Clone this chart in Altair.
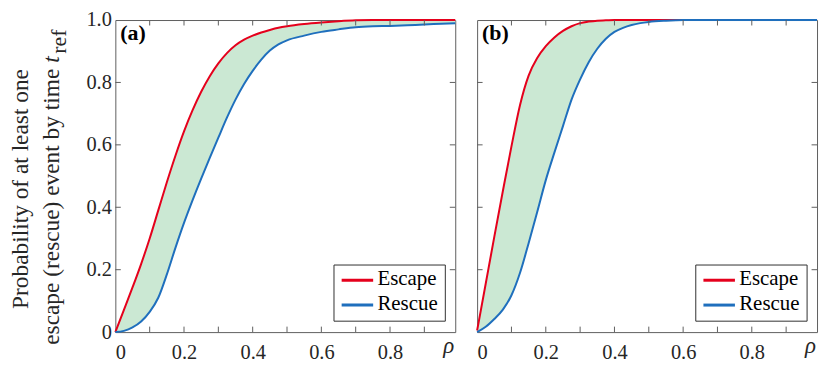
import altair as alt
import pandas as pd

# ---------------- data ----------------
RHO = [0, 0.025, 0.05, 0.075, 0.1, 0.125, 0.15, 0.175, 0.2, 0.225, 0.25, 0.275,
       0.3, 0.325, 0.35, 0.375, 0.4, 0.425, 0.45, 0.475, 0.5, 0.55, 0.6, 0.65,
       0.7, 0.75, 0.8, 0.85, 0.9, 0.95, 0.99]

ESCAPE_A = [0, 0.071, 0.143, 0.218, 0.300, 0.390, 0.480, 0.565, 0.643, 0.711, 0.770, 0.820,
            0.861, 0.894, 0.919, 0.937, 0.950, 0.960, 0.968, 0.975, 0.980, 0.987, 0.992, 0.996,
            0.999, 1.0, 1.0, 1.0, 1.0, 1.0, 1.0]
RESCUE_A = [0, 0.004, 0.015, 0.034, 0.065, 0.110, 0.185, 0.270, 0.350, 0.423, 0.492, 0.558,
            0.623, 0.687, 0.745, 0.795, 0.837, 0.873, 0.902, 0.922, 0.935, 0.950, 0.962, 0.970,
            0.977, 0.980, 0.981, 0.983, 0.986, 0.988, 0.990]

ESCAPE_B = [0.005, 0.155, 0.305, 0.452, 0.595, 0.728, 0.822, 0.878, 0.916, 0.944, 0.965, 0.980,
            0.990, 0.995, 0.998, 0.999, 1.0, 1.0, 1.0, 1.0, 1.0, 1.0, 1.0, 1.0,
            1.0, 1.0, 1.0, 1.0, 1.0, 1.0, 1.0]
RESCUE_B = [0, 0.017, 0.042, 0.072, 0.118, 0.190, 0.285, 0.385, 0.487, 0.575, 0.660, 0.745,
            0.810, 0.865, 0.908, 0.940, 0.962, 0.975, 0.984, 0.990, 0.994, 0.998, 1.0, 1.0,
            1.0, 1.0, 1.0, 1.0, 1.0, 1.0, 1.0]

SERIES = ["Escape", "Rescue"]
X_LABEL_VALUES = [0, 0.2, 0.4, 0.6, 0.8]
Y_LABEL_VALUES = [0, 0.2, 0.4, 0.6, 0.8, 1.0]
X_TICKS = [0.1, 0.2, 0.3, 0.4, 0.5, 0.6, 0.7, 0.8, 0.9]
Y_TICKS = [0.2, 0.4, 0.6, 0.8]
YTITLE_1 = "Probability of at least one"
YTITLE_2 = "escape (rescue) event by time"
PANEL_TAGS = ["(a)", "(b)"]
XLABEL = "ρ"

# ---------------- style ----------------
FONT = "Liberation Serif"
RED = "#e5001c"
BLUE = "#1f6fbd"
FILL = "#cbe8d3"
FRAME = "#5f5f5f"
TEXT = "#262626"
W, H = 342, 314
XMAX = 0.99
TK = 5.5

xs = alt.Scale(domain=[0, XMAX], nice=False, zero=False)
ys = alt.Scale(domain=[0, 1], nice=False, zero=False)
LABEL_EXPR = "datum.value == 0 ? '0' : format(datum.value, '.1f')"


def txt(s, **kw):
    return alt.Chart(pd.DataFrame({"t": [s]})).mark_text(font=FONT, **kw)


def panel(esc, res, tag, first):
    wide = pd.DataFrame({"rho": RHO, "Escape": esc, "Rescue": res})
    long = wide.melt("rho", var_name="series", value_name="p")

    xaxis = alt.Axis(values=X_LABEL_VALUES, labelExpr=LABEL_EXPR, ticks=False, tickSize=0,
                     domain=False, grid=False, labelPadding=11, title=None,
                     labelFont=FONT, labelFontSize=20.5, labelColor=TEXT)
    if first:
        yaxis = alt.Axis(values=Y_LABEL_VALUES, labelExpr=LABEL_EXPR, ticks=False, tickSize=0,
                         domain=False, grid=False, labelPadding=4, title=None,
                         labelFont=FONT, labelFontSize=20.5, labelColor=TEXT)
    else:
        yaxis = None

    area = alt.Chart(wide).mark_area(color=FILL, opacity=1, interpolate="monotone").encode(
        x=alt.X("rho:Q", scale=xs, axis=xaxis),
        y=alt.Y("Escape:Q", scale=ys, axis=yaxis),
        y2="Rescue:Q",
    )
    lines = alt.Chart(long).mark_line(strokeWidth=2, interpolate="monotone").encode(
        x="rho:Q",
        y="p:Q",
        color=alt.Color("series:N", scale=alt.Scale(domain=SERIES, range=[RED, BLUE]), legend=None),
        order=alt.Order("series:N"),
    )

    xt = pd.DataFrame({"v": X_TICKS})
    yt = pd.DataFrame({"v": Y_TICKS})
    tick_bottom = alt.Chart(xt).mark_rule(color=FRAME, strokeWidth=1).encode(
        x="v:Q", y=alt.value(H), y2=alt.value(H - TK))
    tick_top = alt.Chart(xt).mark_rule(color=FRAME, strokeWidth=1).encode(
        x="v:Q", y=alt.value(0), y2=alt.value(TK))
    tick_left = alt.Chart(yt).mark_rule(color=FRAME, strokeWidth=1).encode(
        y="v:Q", x=alt.value(0), x2=alt.value(TK))
    tick_right = alt.Chart(yt).mark_rule(color=FRAME, strokeWidth=1).encode(
        y="v:Q", x=alt.value(W), x2=alt.value(W - TK))

    tag_text = txt(tag, fontSize=22, fontWeight="bold", align="left", baseline="alphabetic",
                   color="black").encode(x=alt.value(5), y=alt.value(20), text="t:N")

    rho_text = txt(XLABEL, fontSize=23, fontStyle="italic", align="right", baseline="alphabetic",
                   color=TEXT).encode(x=alt.value(W - 1), y=alt.value(H + 21), text="t:N")

    # legend box drawn inside the axes (MATLAB style)
    bx2, by2 = W - 10, H - 11
    bx1, by1 = bx2 - 112, by2 - 56.5
    box = alt.Chart(pd.DataFrame({"a": [0]})).mark_rect(
        fill="white", stroke="#303030", strokeWidth=1
    ).encode(x=alt.value(bx1), x2=alt.value(bx2), y=alt.value(by1), y2=alt.value(by2))
    leg_layers = [box]
    for i, (name, col) in enumerate(zip(SERIES, [RED, BLUE])):
        cy = by1 + 15.3 + 25 * i
        leg_layers.append(alt.Chart(pd.DataFrame({"t": [name]})).mark_rule(
            color=col, strokeWidth=3).encode(
            x=alt.value(bx1 + 7.7), x2=alt.value(bx1 + 39.4), y=alt.value(cy)))
        leg_layers.append(txt(name, fontSize=21, align="left", baseline="middle", color="black")
                          .encode(x=alt.value(bx1 + 43.7), y=alt.value(cy - 1), text="t:N"))

    layers = [area, lines, tick_bottom, tick_top, tick_left, tick_right, tag_text, rho_text] + leg_layers

    if first:
        t1 = txt(YTITLE_1, fontSize=23.5, angle=270, align="center", baseline="alphabetic",
                 color=TEXT).encode(x=alt.value(-88), y=alt.value(170), text="t:N")
        t2 = txt(YTITLE_2, fontSize=23.5, angle=270, align="right", baseline="alphabetic",
                 color=TEXT).encode(x=alt.value(-57), y=alt.value(49), text="t:N")
        t3 = txt("t", fontSize=23.5, fontStyle="italic", angle=270, align="left",
                 baseline="alphabetic", color=TEXT).encode(x=alt.value(-57), y=alt.value(43), text="t:N")
        t4 = txt("ref", fontSize=22, angle=270, align="left", baseline="alphabetic",
                 color=TEXT).encode(x=alt.value(-50), y=alt.value(34), text="t:N")
        layers += [t1, t2, t3, t4]

    return alt.layer(*layers).properties(width=W, height=H)


pa = panel(ESCAPE_A, RESCUE_A, PANEL_TAGS[0], True)
pb = panel(ESCAPE_B, RESCUE_B, PANEL_TAGS[1], False)

chart = alt.HConcatChart(hconcat=[pa, pb], spacing=22, bounds="flush").properties(
    padding={"left": 0, "top": 0, "right": 0, "bottom": 0}
).configure_view(
    stroke=FRAME, strokeWidth=1
).configure_scale(
    continuousPadding=0
)

chart.save("out.html", embed_options={"renderer": "svg", "actions": False})
